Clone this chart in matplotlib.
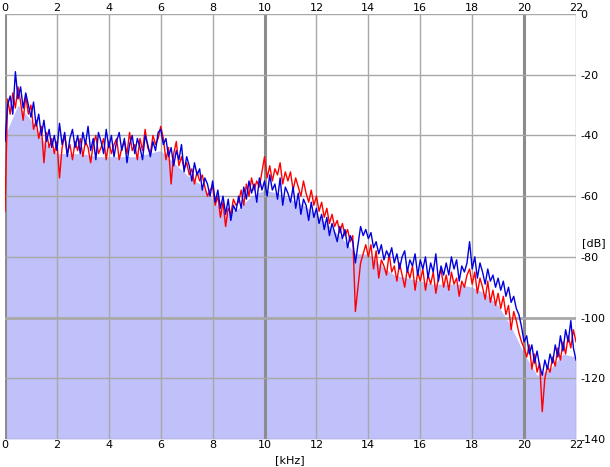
import matplotlib
matplotlib.use('Agg')
import matplotlib.pyplot as plt
import numpy as np

# --- Data (dB, 0.1 kHz steps from 0 to 22 kHz) ---
freq_khz = np.round(np.arange(0, 22.05, 0.1), 1)

blue_db = [
    -42, -30, -27, -33, -19, -28, -24, -31, -26, -30,
    -34, -29, -37, -33, -40, -35, -42, -38, -44, -40,
    -45, -36, -43, -39, -47, -41, -38, -44, -40, -46,
    -39, -43, -37, -45, -41, -48, -39, -42, -46, -38,
    -44, -40, -47, -42, -39, -45, -41, -49, -43, -40,
    -46, -41, -44, -48, -40, -43, -47, -42, -45, -39,
    -38, -43, -41, -47, -44, -50, -45, -48, -43, -52,
    -47, -50, -55, -49, -53, -51, -58, -54, -56, -60,
    -55, -62, -58, -64, -60, -66, -61, -68, -63, -65,
    -60, -64, -57, -61, -55, -59, -56, -62, -54, -58,
    -55, -60, -53, -58, -56, -61, -54, -63, -57, -59,
    -62, -57, -64, -59, -66, -61, -63, -68, -62, -67,
    -64, -69, -66, -71, -67, -73, -69, -72, -75, -70,
    -74, -71, -77, -73, -75, -82, -76, -70, -73, -71,
    -74, -72, -77, -75, -79, -76, -81, -78, -80, -77,
    -82, -79, -84, -80, -78, -85, -81, -83, -79, -86,
    -81, -84, -80, -87, -82, -85, -79, -88, -83, -86,
    -82, -86, -80, -84, -81, -88, -83, -85, -82, -75,
    -84, -80, -87, -82, -85, -89, -84, -88, -86, -90,
    -87, -91, -88, -93, -90, -95, -93, -97, -99, -103,
    -108, -106, -112, -109, -115, -111, -116, -119, -114, -117,
    -112, -115, -109, -113, -106, -111, -104, -108, -101, -110,
    -114,
]

red_db = [
    -65, -28, -33, -26, -31, -24, -29, -35, -27, -33,
    -30, -38, -35, -41, -37, -49, -39, -44, -41, -46,
    -42, -54, -44, -40, -46, -43, -48, -42, -45, -41,
    -47, -42, -44, -49, -43, -40, -46, -44, -41, -48,
    -42, -46, -43, -41, -48, -44, -42, -46, -39, -45,
    -43, -48, -41, -45, -38, -44, -46, -40, -43, -41,
    -37, -41, -48, -44, -56, -46, -42, -50, -47, -51,
    -49, -53, -51, -56, -52, -55, -53, -57, -60, -58,
    -57, -63, -60, -67, -62, -70, -64, -66, -61, -63,
    -62, -58, -63, -56, -60, -54, -58, -55, -57, -52,
    -47, -54, -50, -55, -51, -53, -49, -56, -52, -55,
    -52, -58, -54, -57, -60, -55, -59, -62, -58, -63,
    -60, -65, -62, -67, -64, -69, -66, -70, -68, -72,
    -69, -73, -71, -75, -73, -98, -90, -82, -79, -76,
    -80, -76, -84, -78, -87, -81, -83, -86, -79, -85,
    -83, -88, -82, -86, -90, -84, -87, -83, -91, -85,
    -88, -84, -91, -86, -89, -85, -92, -87, -84, -90,
    -86, -91, -85, -89, -87, -93, -88, -90, -86, -84,
    -89, -85, -92, -87, -90, -94, -88, -95, -91, -96,
    -92, -97, -93, -99, -96, -104, -98, -101, -105, -108,
    -110, -113, -109, -117, -112, -118, -115, -131, -120, -116,
    -118, -113, -116, -110, -114, -108, -112, -106, -110, -104,
    -108,
]

# averaged level (filled area), 0.5 kHz steps
avg_khz = np.arange(0, 22.01, 0.5)
avg_db = [
    -40, -30, -35, -42, -46, -46, -46, -47, -47, -47,
    -47, -46, -45, -49, -53, -56, -61, -66, -64, -60,
    -58, -59, -61, -63, -66, -70, -74, -79, -79, -83,
    -86, -87, -88, -89, -89, -89, -90, -92, -96, -103,
    -112, -119, -117, -112, -113,
]

x_ticks = list(range(0, 23, 2))
y_ticks = list(range(0, -141, -20))

FILL = '#c0c0fa'
GRID = '#a8a8a8'
GRID_MAJOR = '#8c8c8c'

fig = plt.figure(figsize=(6.1, 4.67), dpi=100)
ax = fig.add_axes([5 / 610, 28 / 467, 571 / 610, 425 / 467])
ax.set_xlim(0, 22)
ax.set_ylim(-140, 0)

ax.fill_between(avg_khz, avg_db, -140, color=FILL, lw=0, zorder=1)

# grid
for x in x_ticks:
    major = x % 10 == 0
    ax.axvline(x, color=GRID_MAJOR if major else GRID, lw=2.2 if major else 1.0, zorder=2)
for y in y_ticks:
    ax.axhline(y, color=GRID, lw=2.0 if y == -100 else 1.0, zorder=2)

ax.plot(freq_khz, red_db, color='#ff0000', lw=1.0, zorder=3)
ax.plot(freq_khz, blue_db, color='#0000e0', lw=1.0, zorder=4)

for s in ax.spines.values():
    s.set_visible(False)

ax.set_xticks(x_ticks)
ax.set_yticks(y_ticks)
ax.tick_params(axis='both', length=0, labelsize=8, colors='#000000')
ax.tick_params(axis='x', labeltop=True, labelbottom=True, pad=1)
ax.tick_params(axis='y', labelleft=False, labelright=True, pad=3)
ax.set_yticklabels([str(v) for v in y_ticks])

fig.text(290 / 610, 1 - 460 / 467, '[kHz]', ha='center', va='center', fontsize=8)
fig.text(606 / 610, 1 - 243 / 467, '[dB]', ha='right', va='center', fontsize=8)

fig.savefig('out.png', dpi=100, facecolor='white')
plt.close(fig)
